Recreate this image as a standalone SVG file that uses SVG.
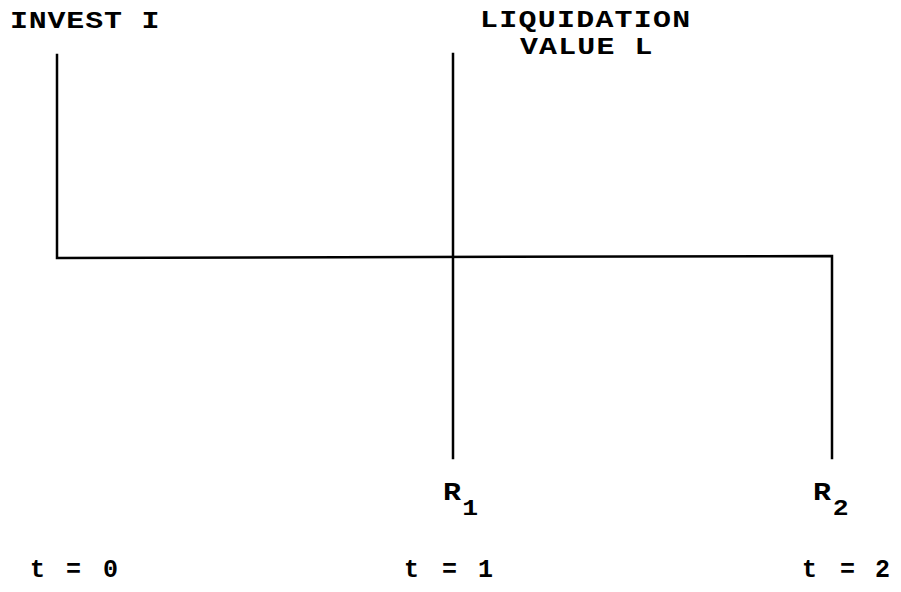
<svg xmlns="http://www.w3.org/2000/svg" width="901" height="592" viewBox="0 0 901 592">
<style>
.lbl{font-family:"Liberation Mono","DejaVu Sans Mono",monospace;font-weight:bold;font-size:23px;fill:#000}
.r{font-family:"Liberation Mono","DejaVu Sans Mono",monospace;font-weight:bold;font-size:25px;fill:#000}
.t{font-family:"Liberation Mono","DejaVu Sans Mono",monospace;font-weight:bold;font-size:25px;fill:#000}
.sub{font-size:22px}
.ln{stroke:#000;stroke-width:2.5;fill:none;stroke-linecap:square;stroke-linejoin:miter}
</style>
<rect width="901" height="592" fill="#fff"/>
<g id="connectors">
<polyline class="ln" points="57,55 57,258 832,256 832,458"/>
<line class="ln" x1="453" y1="54" x2="453" y2="458"/>
</g>
<g id="invest">
<text class="lbl" transform="translate(10,28) scale(1.3,1)" style="letter-spacing:0.66px">INVEST I</text>
</g>
<g id="liquidation">
<text class="lbl" transform="translate(480,27) scale(1.3,1)" style="letter-spacing:1px">LIQUIDATION</text>
<text class="lbl" transform="translate(520,54) scale(1.3,1)" style="letter-spacing:0.9px">VALUE L</text>
</g>
<g id="r1">
<text class="r" transform="translate(443,500) scale(1.2,1)">R<tspan class="sub" x="16" y="15">1</tspan></text>
</g>
<g id="r2">
<text class="r" transform="translate(813,500) scale(1.2,1)">R<tspan class="sub" x="16.5" y="15">2</tspan></text>
</g>
<g id="t0"><text class="t" x="30 48 66 85 103" y="577">t = 0</text></g>
<g id="t1"><text class="t" x="404 423 442 460 478" y="577">t = 1</text></g>
<g id="t2"><text class="t" x="802 821 840 858 875" y="577">t = 2</text></g>
</svg>
